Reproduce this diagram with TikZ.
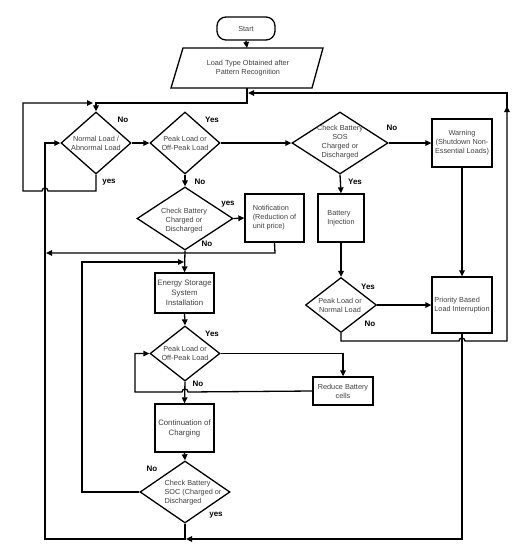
\documentclass[tikz,border=0pt]{standalone}
\usepackage{fontspec}
\setmainfont{Liberation Sans}
\usetikzlibrary{shapes.geometric,arrows.meta}
\definecolor{txtgray}{HTML}{404040}
\begin{document}
\begin{tikzpicture}[x=1pt,y=-1pt,
  ln/.style={line width=1.3pt,draw=black},
  arr/.style={ln,-{Triangle[length=6pt,width=5.5pt]}},
  box/.style={draw,line width=1.3pt,rectangle,inner sep=1pt,font=\fontsize{7.3}{9}\selectfont,text=txtgray},
  dia/.style={draw,line width=1.3pt,diamond,inner sep=0pt},
  dtxt/.style={inner sep=0pt,font=\fontsize{7.3}{9}\selectfont,text=txtgray},
  lab/.style={inner sep=0pt,font=\bfseries\fontsize{8}{9}\selectfont}]
\useasboundingbox[fill=white] (0,0) rectangle (519,550);
% start and input
\node[box,rounded corners=9pt,minimum width=58pt,minimum height=23pt,align=center] (start) at (246,28.5) {Start};
\draw[line width=1.3pt] (183,48) -- (323,48) -- (312,88) -- (171,88) -- cycle;
\node[dtxt,align=center,minimum width=140pt,minimum height=40pt] (para) at (248,68) {Load Type Obtained after\\Pattern Recognition};
% diamonds
\node[dia,minimum width=70pt,minimum height=62pt] (d1) at (96,143) {};
\node[dtxt,align=center] (d1t) at (96,143.5) {Normal Load /\\Abnormal Load};
\node[dia,minimum width=70pt,minimum height=62pt] (d2) at (185,143) {};
\node[dtxt,align=center] (d2t) at (185,143.5) {Peak Load or\\Off-Peak Load};
\node[dia,minimum width=96pt,minimum height=62pt] (d4) at (340,143) {};
\node[dtxt,align=center] (d4t) at (340,142.5) {Check Battery\\SOS\\Charged or\\Discharged};
\node[dia,minimum width=96pt,minimum height=63pt] (cb) at (185,218.5) {};
\node[dtxt,align=center] (cbt) at (184,221) {Check Battery\\Charged or\\Discharged};
\node[dia,minimum width=71pt,minimum height=55pt] (d5) at (341,305) {};
\node[dtxt,align=center] (d5t) at (340,305) {Peak Load or\\Normal Load};
\node[dia,minimum width=70pt,minimum height=55pt] (d3) at (185,353.5) {};
\node[dtxt,align=center] (d3t) at (185,353.5) {Peak Load or\\Off-Peak Load};
\node[dia,minimum width=90pt,minimum height=62pt] (soc) at (185,492) {};
\node[dtxt,align=left] (soct) at (193,493) {Check Battery\\SOC (Charged or\\Discharged};
% boxes
\node[box,minimum width=60pt,minimum height=48pt,align=center] (warn) at (462,143) {Warning\\(Shutdown Non-\\Essential Loads)};
\node[box,minimum width=59pt,minimum height=48pt,align=left] (notif) at (274.5,218) {Notification\\(Reduction of\\unit price)};
\node[box,minimum width=46pt,minimum height=48pt,align=left] (inj) at (341,218) {Battery\\Injection};
\node[box,minimum width=60pt,minimum height=56pt,align=left] (prio) at (462,305) {Priority Based\\Load Interruption};
\node[box,minimum width=59pt,minimum height=40pt,align=center,font=\fontsize{7.8}{10}\selectfont] (ess) at (184.5,293) {Energy Storage\\System\\Installation};
\node[box,minimum width=60pt,minimum height=28pt,align=center] (red) at (343,391) {Reduce Battery\\cells};
\node[box,minimum width=59pt,minimum height=48pt,align=center,font=\fontsize{7.8}{10}\selectfont] (cont) at (184.5,428) {Continuation of\\Charging};
% connectors
\draw[arr] (start.south) -- (247,48);
\draw[arr] (247,88) -- (247,103) -- (96,103) -- (d1.north);
\draw[arr] (d1.south) -- (96,191) -- (48,191) arc (0:-180:3) -- (23,191) -- (23,103) -- (93,103);
\draw[arr] (d1.east) -- (d2.west);
\draw[arr] (d2.south) -- (cb.north);
\draw[arr] (d2.east) -- (d4.west);
\draw[arr] (d4.east) -- (warn.west);
\draw[arr] (warn.south) -- (prio.north);
\draw[arr] (d4.south) -- (inj.north);
\draw[arr] (inj.south) -- (d5.north);
\draw[arr] (d5.east) -- (prio.west);
\draw[arr] (d5.south) -- (341,341) -- (459,341) arc (-180:0:3) -- (507,341) -- (507,106);
\draw[arr] (507,108) -- (507,93) -- (248,93);
\draw[arr] (cb.east) -- (notif.west);
\draw[arr] (notif.south) -- (275,253) -- (46,253);
\draw[arr] (cb.south) -- (ess.north);
\draw[arr] (soc.west) -- (82,492) -- (82,262) -- (184,262);
\draw[arr] (ess.south) -- (d3.north);
\draw[arr] (d3.east) -- (343,353.5) -- (red.north);
\draw[arr] (red.west) -- (188,392) arc (0:-180:3) -- (135,392) -- (135,353.5) -- (d3.west);
\draw[arr] (d3.south) -- (cont.north);
\draw[arr] (cont.south) -- (soc.north);
\draw[arr] (prio.south) -- (462,539) -- (186,539);
\draw[arr] (soc.south) -- (185,539) -- (45,539) -- (45,143) -- (d1.west);
% labels
\node[lab] (l1) at (123,120) {No};
\node[lab] (l2) at (212,120) {Yes};
\node[lab] (l3) at (109,182) {yes};
\node[lab] (l4) at (200,182) {No};
\node[lab] (l5) at (392,128) {No};
\node[lab] (l6) at (355,182) {Yes};
\node[lab] (l7) at (228,204) {yes};
\node[lab] (l8) at (207,244) {No};
\node[lab] (l9) at (368,287) {Yes};
\node[lab] (l10) at (370,324) {No};
\node[lab] (l11) at (212,334) {Yes};
\node[lab] (l12) at (198,384) {No};
\node[lab] (l13) at (152,469) {No};
\node[lab] (l14) at (216,515) {yes};
\end{tikzpicture}
\end{document}
